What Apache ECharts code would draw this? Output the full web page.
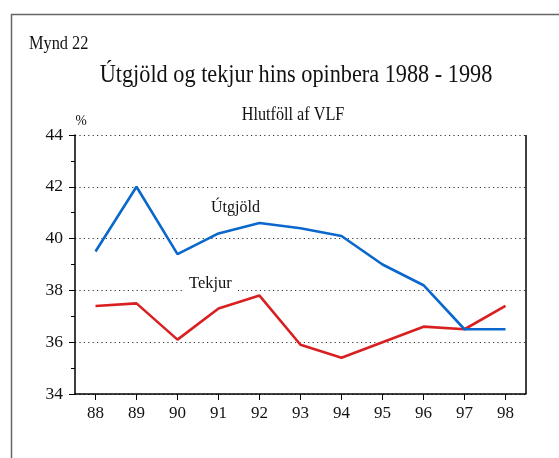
<!DOCTYPE html>
<html>
<head>
<meta charset="utf-8">
<script src="https://cdn.jsdelivr.net/npm/echarts@6/dist/echarts.min.js"></script>
<style>html,body{margin:0;padding:0;background:#fff;}#c{width:559px;height:458px;}</style>
</head>
<body>
<div id="c"></div>
<script>
const years = ['88','89','90','91','92','93','94','95','96','97','98'];
const utgjold = [39.5, 42.0, 39.4, 40.2, 40.6, 40.4, 40.1, 39.0, 38.2, 36.5, 36.5];
const tekjur = [37.4, 37.5, 36.1, 37.3, 37.8, 35.9, 35.4, 36.0, 36.6, 36.5, 37.4];
const yTicks = [34, 36, 38, 40, 42, 44];

const serif = '"Liberation Serif", "DejaVu Serif", serif';
function txt(text, x, y, size, scaleX, align, z) {
  return {type: 'text', x: x, y: y, scaleX: scaleX, z: z || 100, silent: true,
    style: {text: text, font: size + 'px ' + serif, fill: '#111', align: align, verticalAlign: 'middle'}};
}
const chart = echarts.init(document.getElementById('c'), null, {renderer: 'canvas'});
chart.setOption({
  animation: false,
  backgroundColor: '#fff',
  graphic: [
    {type: 'rect', left: 9, top: 12, shape: {width: 600, height: 500}, style: {fill: 'none', stroke: '#666', lineWidth: 1.5}, silent: true, z: 100},
    txt('Mynd 22', 29, 44, 19, 0.86, 'left'),
    txt('Útgjöld og tekjur hins opinbera 1988 - 1998', 296, 75, 26, 0.856, 'center'),
    txt('Hlutföll af VLF', 293, 115, 18, 0.9, 'center'),
    txt('%', 81, 121, 15, 0.9, 'center'),
    txt('Útgjöld', 211, 208, 16, 1, 'left'),
    {type: 'rect', left: 182, top: 278, shape: {width: 56, height: 16}, style: {fill: '#fff'}, z: 99, silent: true},
    txt('Tekjur', 189, 284, 16.5, 1, 'left')
  ],
  grid: {left: 75, top: 135, width: 451, height: 259, containLabel: false},
  xAxis: {
    type: 'category',
    data: years,
    boundaryGap: true,
    axisLine: {show: true, lineStyle: {color: '#000', width: 1.5}},
    axisTick: {show: true, alignWithLabel: true, length: 6, inside: false, lineStyle: {color: '#000'}},
    axisLabel: {fontFamily: serif, fontSize: 17, color: '#111', margin: 11},
    splitLine: {show: false}
  },
  yAxis: {
    type: 'value',
    min: 34, max: 44, interval: 2,
    axisLine: {show: true, lineStyle: {color: '#000', width: 1.5}},
    axisTick: {show: true, length: 6, lineStyle: {color: '#000'}},
    minorTick: {show: true, splitNumber: 2, length: 4, lineStyle: {color: '#000'}},
    axisLabel: {fontFamily: serif, fontSize: 17.5, color: '#111', margin: 12,
      formatter: v => yTicks.includes(v) ? String(v) : ''},
    splitLine: {show: true, lineStyle: {color: '#333', type: [1.2, 3.2], width: 1}}
  },
  series: [
    {name: 'Útgjöld', type: 'line', data: utgjold, symbol: 'none', lineStyle: {color: '#0a68cc', width: 2.6}, z: 3},
    {name: 'Tekjur', type: 'line', data: tekjur, symbol: 'none', lineStyle: {color: '#d92020', width: 2.6}, z: 2},
    {type: 'line', data: [], markLine: {silent: true, symbol: 'none', label: {show: false},
      lineStyle: {color: '#000', type: 'solid', width: 1.5}, data: [[{x: 526, yAxis: 34}, {x: 526, yAxis: 44}]]}}
  ]
});
</script>
</body>
</html>
